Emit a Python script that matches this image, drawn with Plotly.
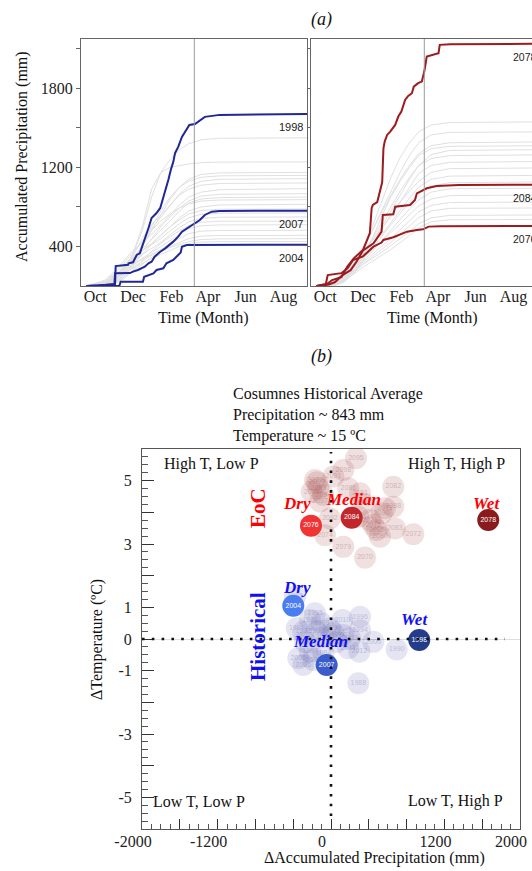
import plotly.graph_objects as go
import pandas as pd

W, H = 532, 871
SERIF = "Liberation Serif"
SANS = "Liberation Sans"

# ---------------- data: panel (a) ----------------
WY_START = "2000-10-01"          # water year start (Oct 1)
SPLIT_DATE = "2001-03-24"        # vertical reference line
GRID_DAYS = [0, 30, 45, 60, 75, 90, 105, 120, 135, 150, 165, 185, 215, 364]

# historical (gray) accumulated precipitation, mm, at GRID_DAYS
HIST_GRAY = [
    [0, 20, 60, 180, 320, 560, 900, 1150, 1280, 1380, 1440, 1480, 1495, 1500],
    [0, 10, 40, 150, 330, 600, 980, 1150, 1200, 1220, 1235, 1248, 1254, 1256],
    [0, 30, 90, 200, 280, 400, 560, 720, 880, 1000, 1080, 1130, 1145, 1150],
    [0, 5, 30, 120, 260, 420, 600, 760, 900, 1000, 1060, 1100, 1115, 1120],
    [0, 40, 120, 230, 330, 450, 580, 700, 820, 930, 1010, 1060, 1080, 1087],
    [0, 15, 50, 140, 300, 480, 620, 720, 830, 920, 980, 1020, 1038, 1043],
    [0, 60, 150, 260, 360, 430, 520, 620, 720, 820, 900, 950, 975, 986],
    [0, 10, 40, 100, 200, 350, 480, 600, 700, 790, 860, 910, 928, 935],
    [0, 25, 80, 180, 290, 380, 470, 560, 660, 760, 840, 880, 895, 900],
    [0, 5, 20, 90, 220, 400, 560, 660, 730, 790, 830, 860, 870, 874],
    [0, 50, 130, 220, 300, 360, 430, 510, 600, 690, 760, 800, 820, 827],
    [0, 20, 60, 130, 220, 320, 420, 520, 600, 670, 730, 765, 777, 780],
    [0, 10, 50, 160, 280, 360, 420, 480, 560, 630, 690, 725, 737, 740],
    [0, 30, 100, 190, 260, 320, 380, 440, 520, 590, 650, 685, 696, 699],
    [0, 5, 25, 70, 160, 260, 350, 430, 500, 560, 610, 645, 655, 658],
    [0, 40, 110, 170, 220, 280, 340, 400, 460, 520, 580, 610, 618, 620],
    [0, 15, 60, 120, 190, 250, 310, 370, 430, 480, 530, 555, 562, 564],
    [0, 20, 70, 140, 210, 270, 320, 360, 400, 440, 480, 505, 511, 513],
    [0, 10, 40, 90, 150, 220, 290, 350, 390, 420, 450, 470, 477, 479],
    [0, 30, 80, 130, 180, 230, 280, 320, 360, 400, 430, 445, 449, 450],
]

# end-of-century (gray) accumulated precipitation, mm, at GRID_DAYS
EOC_GRAY = [
    [0, 20, 80, 200, 380, 600, 850, 1100, 1300, 1450, 1560, 1630, 1655, 1661],
    [0, 30, 100, 220, 380, 560, 760, 960, 1150, 1320, 1450, 1530, 1555, 1560],
    [0, 40, 120, 250, 400, 560, 740, 920, 1080, 1220, 1340, 1420, 1450, 1458],
    [0, 10, 50, 150, 300, 480, 700, 900, 1060, 1200, 1320, 1390, 1414, 1420],
    [0, 60, 150, 260, 350, 460, 600, 760, 920, 1080, 1220, 1330, 1372, 1380],
    [0, 15, 60, 180, 320, 480, 640, 800, 960, 1100, 1220, 1290, 1320, 1327],
    [0, 30, 100, 220, 340, 450, 570, 700, 850, 1000, 1140, 1220, 1252, 1260],
    [0, 5, 40, 130, 260, 420, 580, 720, 850, 960, 1060, 1150, 1188, 1195],
    [0, 50, 140, 240, 330, 420, 520, 640, 770, 890, 1000, 1080, 1112, 1120],
    [0, 20, 70, 160, 270, 380, 500, 620, 740, 850, 940, 1010, 1046, 1053],
    [0, 10, 60, 150, 250, 350, 460, 570, 680, 780, 870, 950, 984, 990],
    [0, 40, 110, 200, 280, 360, 450, 540, 630, 720, 810, 880, 915, 921],
    [0, 25, 80, 160, 240, 320, 400, 480, 570, 660, 750, 815, 845, 850],
    [0, 10, 50, 130, 220, 300, 370, 440, 520, 600, 690, 760, 786, 790],
    [0, 30, 90, 160, 220, 280, 340, 410, 480, 550, 630, 690, 715, 719],
    [0, 15, 60, 120, 190, 250, 310, 370, 440, 510, 590, 650, 670, 674],
]

# highlighted historical years (days since Oct 1, mm)
Y1998_DAYS = [0, 20, 46, 47, 67, 68, 75, 81, 86, 94, 100, 105, 113, 119, 124, 128, 132, 136, 140,
              143, 148, 154, 161, 166, 175, 180, 191, 215, 364]
Y1998_MM = [0, 5, 20, 202, 215, 230, 240, 314, 330, 466, 587, 689, 739, 790, 891, 972, 1073, 1175, 1256,
            1347, 1408, 1509, 1580, 1630, 1640, 1660, 1712, 1732, 1742]
Y2007_DAYS = [0, 30, 45, 46, 70, 75, 83, 94, 100, 105, 110, 119, 127, 140, 148, 154, 162, 170, 175,
              183, 191, 202, 215, 364]
Y2007_MM = [0, 5, 15, 128, 131, 145, 162, 196, 230, 246, 297, 347, 381, 449, 499, 550, 584, 618, 635,
            668, 719, 752, 760, 762]
Y2004_DAYS = [0, 53, 55, 91, 93, 108, 113, 124, 129, 140, 148, 152, 154, 162, 364]
Y2004_MM = [0, 2, 44, 44, 94, 128, 162, 179, 230, 263, 314, 340, 398, 415, 418]

# highlighted end-of-century years
Y2078_DAYS = [0, 15, 25, 40, 50, 60, 75, 86, 89, 91, 98, 102, 106, 108, 110, 114, 119, 127, 132, 137,
              143, 148, 154, 157, 164, 170, 174, 178, 186, 197, 199, 216, 364]
Y2078_MM = [0, 10, 60, 90, 200, 280, 364, 534, 790, 820, 850, 950, 1050, 1390, 1462, 1529, 1563, 1630,
            1715, 1765, 1884, 1924, 1951, 2018, 2053, 2069, 2170, 2322, 2339, 2356, 2441, 2448, 2452]
Y2084_DAYS = [0, 20, 30, 42, 55, 65, 75, 92, 105, 107, 124, 127, 151, 159, 162, 170, 178, 194, 230, 364]
Y2084_MM = [0, 15, 40, 110, 160, 250, 360, 432, 550, 719, 725, 803, 820, 871, 938, 960, 989, 1013, 1022, 1025]
Y2076_DAYS = [0, 15, 18, 40, 50, 59, 75, 92, 105, 108, 124, 146, 162, 172, 181, 200, 364]
Y2076_MM = [0, 20, 110, 130, 180, 263, 300, 398, 440, 466, 493, 550, 567, 574, 601, 606, 608]

MONTH_TICK0 = "2000-10-15"

# ---------------- data: panel (b) ----------------
HIST_AVG_PRECIP = 843
HIST_AVG_TEMP = 15

EOC_YEARS = [2095, 2098, 2091, 2077, 2093, 2089, 2094, 2097, 2086, 2081, 2087, 2082, 2088, 2073,
             2090, 2092, 2074, 2075, 2085, 2080, 2083, 2072, 2079, 2070, 2096, 2071, 2099]
EOC_DP = [264, 130, 25, -169, -134, -204, -81, -116, 183, 307, 342, 659, 659, 571,
          536, -11, -63, 448, 483, 518, 677, 871, 130, 360, 289, 413, -150]
EOC_DT = [5.71, 5.34, 5.13, 5.02, 4.76, 4.65, 4.55, 4.34, 4.76, 4.60, 4.28, 4.81, 4.18, 4.13,
          3.97, 3.81, 3.28, 3.60, 3.44, 3.23, 3.49, 3.31, 2.91, 2.57, 3.86, 3.76, 4.95]

HIST_YEARS = [1985, 1995, 1986, 1989, 1991, 1992, 1993, 1999, 2010, 1996, 1994, 2001, 2003, 2000,
              1990, 2012, 2011, 2002, 1987, 2005, 2006, 2008, 1988, 2009, 2013, 1997, 1984]
HIST_DP = [-381, -169, -222, -98, -363, -293, -151, -11, 120, 307, 307, 130, 201, 448,
           695, 300, 183, 60, -222, -346, -293, -187, 289, -81, 25, -275, -81]
HIST_DT = [1.34, 0.81, 0.60, 0.50, 0.34, 0.23, 0.23, 0.34, 0.60, 0.70, 0.28, 0.13, 0.02, -0.09,
           -0.33, -0.40, -0.29, -0.09, -0.40, -0.61, -0.82, -0.66, -1.40, 0.07, 0.18, -0.09, -0.45]

SEL_LABELS = ["Dry", "Median", "Wet"]
EOC_SEL_YEARS = [2076, 2084, 2078]
EOC_SEL_DP = [-212, 219, 1664]
EOC_SEL_DT = [3.58, 3.83, 3.76]
EOC_SEL_COLORS = ["#f03434", "#c0262c", "#8a1b1d"]
HIST_SEL_YEARS = [2004, 2007, 1998]
HIST_SEL_DP = [-399, -46, 934]
HIST_SEL_DT = [1.05, -0.82, -0.03]
HIST_SEL_COLORS = ["#4a7df0", "#3a5ccc", "#243d8a"]

X_TICKS_B = [-2000, -1600, -1200, -800, -400, 0, 400, 800, 1200, 1600, 2000]
X_TICKTEXT_B = ["-2000", "", "-1200", "", "", "0", "", "", "1200", "", "2000"]
Y_TICKS_B = [-6, -5, -4, -3, -2, -1, 0, 1, 2, 3, 4, 5, 6]
Y_TICKTEXT_B = ["", "-5", "", "-3", "", "-1", "0", "1", "", "3", "", "5", ""]
Y_TICKS_A = [400, 800, 1200, 1600, 2000, 2400]
Y_TICKTEXT_A = ["400", "", "1200", "", "1800", ""]

BLUE_LINE = "#1f2895"
RED_LINE = "#9c1b1f"
GRAY_LINE = "#e0e0e0"


def px(x):
    return x / W


def py(y):
    return 1 - y / H


def to_dates(days):
    start = pd.Timestamp(WY_START)
    return [start + pd.Timedelta(days=d) for d in days]


fig = go.Figure()

# ---- panel (a) gray lines
for vals in HIST_GRAY:
    fig.add_trace(go.Scatter(x=to_dates(GRID_DAYS), y=vals, mode="lines",
                             line=dict(color=GRAY_LINE, width=1), xaxis="x", yaxis="y",
                             hoverinfo="skip", showlegend=False))
for vals in EOC_GRAY:
    fig.add_trace(go.Scatter(x=to_dates(GRID_DAYS), y=vals, mode="lines",
                             line=dict(color=GRAY_LINE, width=1), xaxis="x2", yaxis="y2",
                             hoverinfo="skip", showlegend=False))

hist_sel = [("1998", Y1998_DAYS, Y1998_MM), ("2007", Y2007_DAYS, Y2007_MM), ("2004", Y2004_DAYS, Y2004_MM)]
eoc_sel = [("2078", Y2078_DAYS, Y2078_MM), ("2084", Y2084_DAYS, Y2084_MM), ("2076", Y2076_DAYS, Y2076_MM)]

annotations = []
for name, d, v in hist_sel:
    fig.add_trace(go.Scatter(x=to_dates(d), y=v, mode="lines", line=dict(color=BLUE_LINE, width=2),
                             xaxis="x", yaxis="y", name=name, showlegend=False))
    annotations.append(dict(text=name, xref="x domain", x=1, xanchor="right", xshift=-2,
                            yref="y", y=v[-1], yanchor="middle", yshift=-13, showarrow=False,
                            font=dict(family=SANS, size=11, color="#222")))
for name, d, v in eoc_sel:
    fig.add_trace(go.Scatter(x=to_dates(d), y=v, mode="lines", line=dict(color=RED_LINE, width=2),
                             xaxis="x2", yaxis="y2", name=name, showlegend=False))
    annotations.append(dict(text=name, xref="paper", x=px(511), xanchor="left",
                            yref="y2", y=v[-1], yanchor="middle", yshift=-13, showarrow=False,
                            font=dict(family=SANS, size=10.5, color="#222")))

# ---- panel (b) bubbles
fig.add_trace(go.Scatter(x=EOC_DP, y=EOC_DT, mode="markers+text", text=[str(y) for y in EOC_YEARS],
                         textposition="middle center",
                         textfont=dict(family=SANS, size=7, color="rgba(150,105,105,0.4)"),
                         marker=dict(size=22, color="rgba(170,80,80,0.18)", line=dict(width=0)),
                         xaxis="x3", yaxis="y3", showlegend=False))
fig.add_trace(go.Scatter(x=HIST_DP, y=HIST_DT, mode="markers+text", text=[str(y) for y in HIST_YEARS],
                         textposition="middle center",
                         textfont=dict(family=SANS, size=7, color="rgba(120,120,170,0.4)"),
                         marker=dict(size=22, color="rgba(105,105,185,0.18)", line=dict(width=0)),
                         xaxis="x3", yaxis="y3", showlegend=False))
fig.add_trace(go.Scatter(x=EOC_SEL_DP, y=EOC_SEL_DT, mode="markers+text",
                         text=[str(y) for y in EOC_SEL_YEARS], textposition="middle center",
                         textfont=dict(family=SANS, size=7, color="white"),
                         marker=dict(size=22, color=EOC_SEL_COLORS, line=dict(width=0)),
                         xaxis="x3", yaxis="y3", showlegend=False))
fig.add_trace(go.Scatter(x=HIST_SEL_DP, y=HIST_SEL_DT, mode="markers+text",
                         text=[str(y) for y in HIST_SEL_YEARS], textposition="middle center",
                         textfont=dict(family=SANS, size=7, color="white"),
                         marker=dict(size=22, color=HIST_SEL_COLORS, line=dict(width=0)),
                         xaxis="x3", yaxis="y3", showlegend=False))

txt = dict(showarrow=False, xref="paper", yref="paper", xanchor="center", yanchor="middle")


def note(text, x, y, size=16, color="#111", **kw):
    d = dict(txt)
    d.update(kw)
    d.update(text=text, x=px(x), y=py(y), font=dict(family=SERIF, size=size, color=color))
    return d


# labels Dry / Median / Wet
eoc_lbl_pos = [(297, 503), (353, 500), (486, 503)]
hist_lbl_pos = [(297, 587), (320, 641), (414, 619)]
for lbl, (xx, yy) in zip(SEL_LABELS, eoc_lbl_pos):
    annotations.append(note("<b><i>%s</i></b>" % lbl, xx, yy, size=17, color="#ff0000"))
for lbl, (xx, yy) in zip(SEL_LABELS, hist_lbl_pos):
    annotations.append(note("<b><i>%s</i></b>" % lbl, xx, yy, size=17, color="#1010f0"))

annotations += [
    note("<i>(a)</i>", 321, 19, size=18),
    note("<i>(b)</i>", 321, 356, size=18),
    note("Accumulated Precipitation (mm)", 22, 157, textangle=-90),
    note("Time (Month)", 203, 318),
    note("Time (Month)", 432, 318),
    note("Cosumnes Historical Average<br>Precipitation ~ %d mm<br>Temperature ~ %d ºC"
         % (HIST_AVG_PRECIP, HIST_AVG_TEMP), 231, 415, xanchor="left", align="left"),
    note("ΔTemperature (ºC)", 97, 640, textangle=-90),
    note("ΔAccumulated Precipitation (mm)", 374, 858),
    note("High T, Low P", 162, 464, xanchor="left"),
    note("High T, High P", 507, 464, xanchor="right"),
    note("Low T, Low P", 151, 801, xanchor="left"),
    note("Low T, High P", 505, 801, xanchor="right"),
    note("<b>EoC</b>", 258, 508, size=21, color="#ff0000", textangle=-90),
    note("<b>Historical</b>", 258, 637, size=21, color="#1010f0", textangle=-90),
]

shapes = [
    dict(type="line", xref="x", yref="y domain", x0=SPLIT_DATE, x1=SPLIT_DATE, y0=0, y1=1,
         line=dict(color="#9a9a9a", width=1)),
    dict(type="line", xref="x2", yref="y2 domain", x0=SPLIT_DATE, x1=SPLIT_DATE, y0=0, y1=1,
         line=dict(color="#9a9a9a", width=1)),
    dict(type="line", xref="x3", yref="y3 domain", x0=0, x1=0, y0=0.034, y1=0.992, layer="above",
         line=dict(color="#111", width=2.6, dash="2.6px,7.2px")),
    dict(type="line", xref="x3 domain", yref="y3", x0=0.0, x1=0.96, y0=0, y1=0, layer="above",
         line=dict(color="#111", width=2.6, dash="2.6px,7.2px")),
]

tickfont = dict(family=SERIF, size=16, color="#222")
a_top, a_bot = py(39), py(286)
date_axis = dict(type="date", tick0=MONTH_TICK0, dtick="M2", tickformat="%b", ticks="",
                 ticklabelstandoff=-4,
                 showgrid=False, zeroline=False, showline=True, mirror=True,
                 linecolor="#666", linewidth=1, tickfont=tickfont, automargin=False)

fig.update_layout(
    width=W, height=H, autosize=False,
    margin=dict(l=0, r=0, t=0, b=0, pad=0, autoexpand=False),
    paper_bgcolor="white", plot_bgcolor="white",
    showlegend=False,
    xaxis=dict(domain=[px(81), px(307)], anchor="y", range=["2000-09-22", "2001-09-22"], **date_axis),
    yaxis=dict(domain=[a_bot, a_top], anchor="x", range=[0, 2500], tickmode="array",
               tickvals=Y_TICKS_A, ticktext=Y_TICKTEXT_A, ticks="outside", ticklen=4,
               tickcolor="#666", showgrid=False, zeroline=False, showline=True, mirror=True,
               linecolor="#666", linewidth=1, tickfont=tickfont, automargin=False),
    xaxis2=dict(domain=[px(311), 1.0], anchor="y2", range=["2000-09-22", "2001-09-14"], **date_axis),
    yaxis2=dict(domain=[a_bot, a_top], anchor="x2", range=[0, 2500], tickmode="array",
                tickvals=Y_TICKS_A, ticktext=Y_TICKTEXT_A, showticklabels=False, ticks="outside",
                ticklen=3, tickcolor="#666", showgrid=False, zeroline=False, showline=True,
                mirror=False, linecolor="#666", linewidth=1, automargin=False),
    xaxis3=dict(domain=[px(142), px(520)], anchor="y3", range=[-2000, 2000], tickmode="array",
                tickvals=X_TICKS_B, ticktext=X_TICKTEXT_B, ticks="inside", ticklen=10,
                ticklabelshift=-9, ticklabelstandoff=-2,
                tickcolor="#333", minor=dict(ticks="inside", ticklen=5, tickmode="linear", tick0=0,
                                             dtick=100, tickcolor="#555"),
                showgrid=False, zeroline=False, showline=True, mirror=True,
                linecolor="#555", linewidth=1, tickfont=tickfont, automargin=False),
    yaxis3=dict(domain=[py(829), py(449)], anchor="x3", range=[-6, 6], tickmode="array",
                tickvals=Y_TICKS_B, ticktext=Y_TICKTEXT_B, ticks="inside", ticklen=12,
                ticklabelstandoff=6,
                tickcolor="#333", minor=dict(ticks="inside", ticklen=6, tickmode="linear", tick0=0,
                                             dtick=0.25, tickcolor="#555"),
                showgrid=False, zeroline=True, zerolinecolor="#dedede", zerolinewidth=1,
                showline=True, mirror=True, linecolor="#555", linewidth=1, tickfont=tickfont,
                automargin=False),
    annotations=annotations,
    shapes=shapes,
)

fig.write_html("out.html", config={"displayModeBar": False},
               post_script="document.body.style.margin='0px';")
